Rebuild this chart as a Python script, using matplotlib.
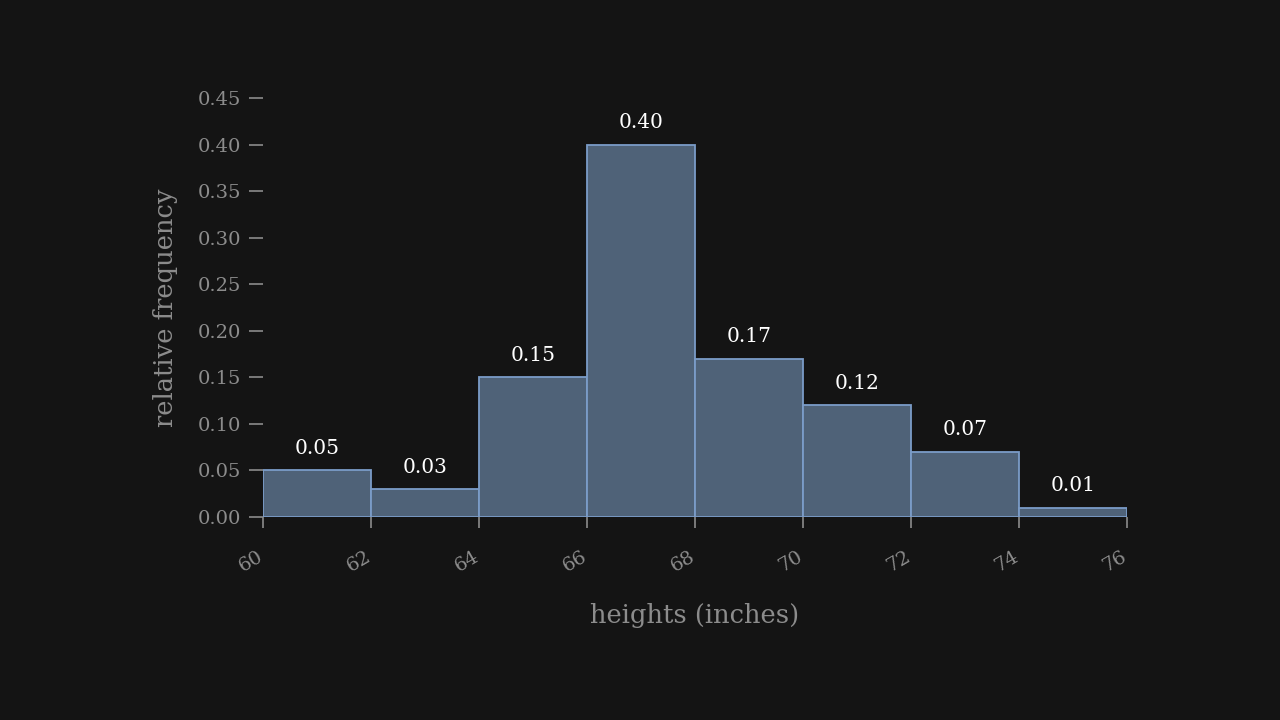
import matplotlib
matplotlib.use("Agg")
import matplotlib.pyplot as plt
import matplotlib.transforms as mtransforms

bin_edges = [60, 62, 64, 66, 68, 70, 72, 74, 76]
rel_freq = [0.05, 0.03, 0.15, 0.40, 0.17, 0.12, 0.07, 0.01]
bar_labels = ["0.05", "0.03", "0.15", "0.40", "0.17", "0.12", "0.07", "0.01"]
y_ticks = [0.00, 0.05, 0.10, 0.15, 0.20, 0.25, 0.30, 0.35, 0.40, 0.45]

bg = "#141414"
plt.rcParams['font.family'] = ['DejaVu Serif']

fig = plt.figure(figsize=(12.8, 7.2), dpi=100, facecolor=bg)
ax = fig.add_axes([263/1280, 1-517/720, (1127-263)/1280, (517-98)/720])
ax.set_facecolor(bg)

lefts = bin_edges[:-1]
widths = [bin_edges[i+1]-bin_edges[i] for i in range(len(lefts))]
bars = ax.bar(lefts, rel_freq, width=widths, align='edge', color="#4f6278",
              edgecolor="#7b9cc8", linewidth=1.3)
for b, lab in zip(bars, bar_labels):
    ax.annotate(lab, (b.get_x()+b.get_width()/2, b.get_height()), xytext=(0, 9),
                textcoords='offset points', ha='center', va='bottom', color='white', fontsize=14.5)

ax.set_xlim(60, 76)
ax.set_ylim(0, 0.45)
ax.set_xticks(bin_edges)
ax.set_xticklabels([str(e) for e in bin_edges], rotation=30, ha='right', va='top', rotation_mode='anchor')
ax.set_yticks(y_ticks)
ax.set_yticklabels([f"{v:.2f}" for v in y_ticks])
for s in ax.spines.values():
    s.set_visible(False)
ax.tick_params(axis='y', colors='#8c8c8c', labelcolor='#8c8c8c', length=10, width=1.2, labelsize=14, pad=6)
ax.tick_params(axis='x', colors='#8c8c8c', labelcolor='#8c8c8c', length=8, width=1.2, labelsize=14, pad=14)
offset = mtransforms.ScaledTranslation(-6/100, 0, fig.dpi_scale_trans)
for lbl in ax.get_xticklabels():
    lbl.set_transform(lbl.get_transform() + offset)
ax.set_xlabel("heights (inches)", color='#8c8c8c', fontsize=18.5, labelpad=20)
ax.set_ylabel("relative frequency", color='#8c8c8c', fontsize=18.5, labelpad=14)

fig.savefig("out.png", dpi=100, facecolor=bg)
